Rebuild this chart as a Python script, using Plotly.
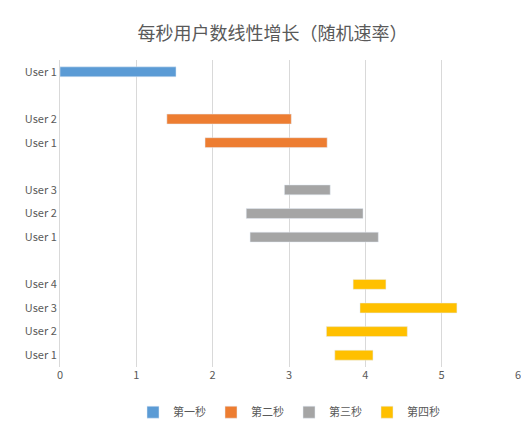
import plotly.graph_objects as go

series = ["第一秒", "第二秒", "第三秒", "第四秒"]
colors = ["#5B9BD5", "#ED7D31", "#A5A5A5", "#FFC000"]
users = [["User 1"], ["User 2", "User 1"], ["User 3", "User 2", "User 1"],
         ["User 4", "User 3", "User 2", "User 1"]]
starts = [[0.0], [1.40, 1.90], [2.94, 2.44, 2.49], [3.84, 3.93, 3.49, 3.60]]
ends = [[1.52], [3.03, 3.50], [3.54, 3.97, 4.17], [4.27, 5.20, 4.55, 4.10]]

fig = go.Figure()
pos = 0
tickvals, ticktext = [], []
for i, name in enumerate(series):
    ys = []
    for u in users[i]:
        ys.append(pos); tickvals.append(pos); ticktext.append(u); pos += 1
    pos += 1
    fig.add_trace(go.Bar(
        name=name, orientation="h", y=ys,
        x=[e - s for s, e in zip(starts[i], ends[i])], base=starts[i],
        marker_color=colors[i], width=0.42))

fig.update_layout(
    width=529, height=421, plot_bgcolor="white", paper_bgcolor="white",
    margin=dict(l=52, r=19, t=52, b=62, autoexpand=False),
    font=dict(family="Noto Sans CJK SC", size=11, color="#595959"),
    title=dict(text="每秒用户数线性增长（随机速率）", x=0.5, y=0.955,
               font=dict(size=18, color="#595959")),
    xaxis=dict(range=[0, 6], dtick=1, showgrid=True, gridcolor="#D9D9D9",
               zeroline=False, tickfont=dict(size=11, color="#595959"),
               automargin=False),
    yaxis=dict(range=[12.5, -0.5], tickvals=tickvals, ticktext=ticktext,
               showgrid=False, zeroline=False, showline=True,
               linecolor="#D9D9D9", ticks="", automargin=False,
               tickfont=dict(size=11, color="#595959")),
    legend=dict(orientation="h", x=0.5, xanchor="center", y=-0.1,
                yanchor="top", font=dict(size=11), itemwidth=30,
                tracegroupgap=0),
    barmode="overlay",
)
fig.write_html("out.html")
